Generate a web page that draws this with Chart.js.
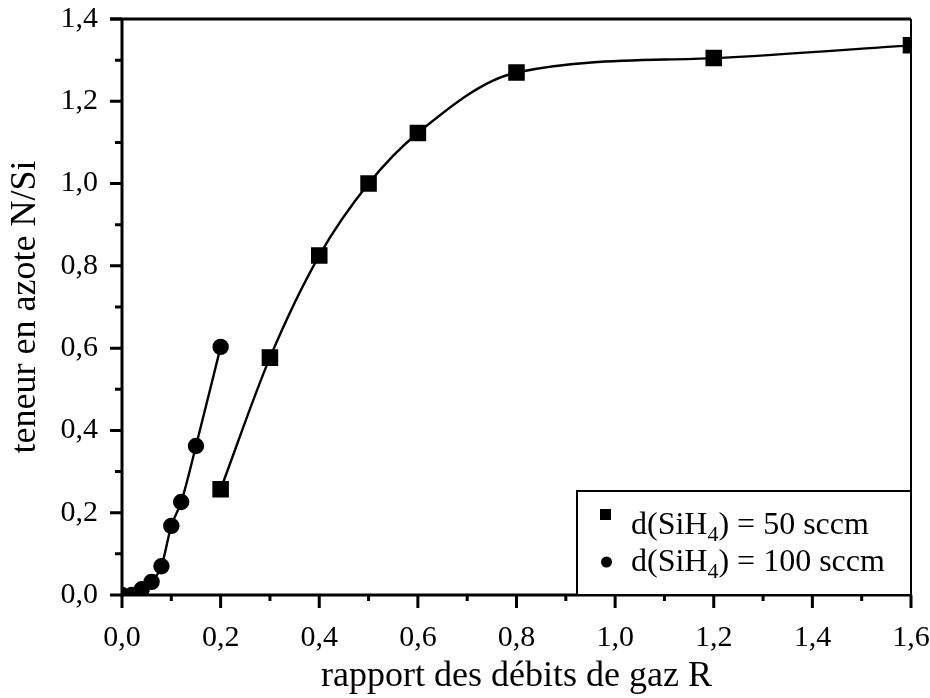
<!DOCTYPE html>
<html>
<head>
<meta charset="utf-8">
<script src="https://cdn.jsdelivr.net/npm/chart.js@4"></script>
<style>
  html, body { margin: 0; padding: 0; background: #fff; }
  #wrap { width: 930px; height: 698px; }
</style>
</head>
<body>
<div id="wrap"><canvas id="chart"></canvas></div>
<script>
// rapport R (x) et teneur N/Si (y)
const r50 = [0.2, 0.3, 0.4, 0.5, 0.6, 0.8, 1.2, 1.6];
const n50 = [0.257, 0.577, 0.825, 1.0, 1.123, 1.27, 1.305, 1.336];
const r100 = [0.0, 0.02, 0.04, 0.06, 0.08, 0.1, 0.12, 0.15, 0.2];
const n100 = [0.0, 0.0, 0.014, 0.032, 0.07, 0.168, 0.226, 0.362, 0.603];
const legendLabels = ['50 sccm', '100 sccm'];

const serif = '"Liberation Serif", "DejaVu Serif", serif';
const fmt = v => v.toFixed(1).replace('.', ',');

const toPoints = (xs, ys) => xs.map((x, i) => ({ x: x, y: ys[i] }));

// cadre, graduations et légende dessinés à la main
const frame = {
    id: 'frame',
    afterDraw(chart) {
        const { ctx, chartArea: a, scales } = chart;
        ctx.save();
        ctx.strokeStyle = '#000';
        // axes principaux
        ctx.lineWidth = 3;
        ctx.beginPath();
        ctx.moveTo(a.left, a.top); ctx.lineTo(a.left, a.bottom);
        ctx.moveTo(a.left - 1.5, a.bottom); ctx.lineTo(a.right + 1, a.bottom);
        ctx.moveTo(a.left - 12, a.top); ctx.lineTo(a.right, a.top);
        ctx.stroke();
        ctx.lineWidth = 2;
        ctx.beginPath();
        ctx.moveTo(a.right, a.top); ctx.lineTo(a.right, a.bottom);
        ctx.stroke();
        // graduations
        ctx.lineWidth = 3;
        ctx.beginPath();
        for (let i = 0; i <= 14; i++) {
            const y = scales.y.getPixelForValue(i / 10);
            const len = i % 2 === 0 ? 12 : 7;
            ctx.moveTo(a.left - len, y); ctx.lineTo(a.left, y);
        }
        for (let i = 0; i <= 16; i++) {
            const x = scales.x.getPixelForValue(i / 10);
            const len = i % 2 === 0 ? 13 : 6;
            ctx.moveTo(x, a.bottom); ctx.lineTo(x, a.bottom + len);
        }
        ctx.stroke();

        // légende
        const bx = 577, by = 491, bw = a.right - bx, bh = a.bottom - by;
        ctx.fillStyle = '#fff';
        ctx.fillRect(bx, by, bw, bh);
        ctx.lineWidth = 2;
        ctx.strokeRect(bx, by, bw, bh);
        ctx.fillStyle = '#000';
        ctx.fillRect(600, 509, 11, 11);
        ctx.beginPath();
        ctx.arc(606.5, 562, 5.5, 0, Math.PI * 2);
        ctx.fill();
        const rows = [534, 571];
        rows.forEach((y, i) => {
            let x = 631;
            ctx.textBaseline = 'alphabetic';
            ctx.font = '32px ' + serif;
            ctx.fillText('d(SiH', x, y);
            x += ctx.measureText('d(SiH').width;
            ctx.font = '22px ' + serif;
            ctx.fillText('4', x, y + 7);
            x += ctx.measureText('4').width;
            ctx.font = '32px ' + serif;
            ctx.fillText(') = ' + legendLabels[i], x, y);
        });
        ctx.restore();
    }
};

const chartContainer = document.querySelector('#chart');
const chart = new Chart(chartContainer, {
    type: 'scatter',
    data: {
        datasets: [
            {
                label: 'd(SiH4) = 50 sccm',
                data: toPoints(r50, n50),
                showLine: true,
                cubicInterpolationMode: 'monotone',
                borderColor: '#000',
                backgroundColor: '#000',
                borderWidth: 2.4,
                pointStyle: 'rect',
                pointRadius: 10,
                pointHoverRadius: 10,
            },
            {
                label: 'd(SiH4) = 100 sccm',
                data: toPoints(r100, n100),
                showLine: true,
                cubicInterpolationMode: 'monotone',
                borderColor: '#000',
                backgroundColor: '#000',
                borderWidth: 2.4,
                pointStyle: 'circle',
                pointRadius: 7,
                pointHoverRadius: 7,
            },
        ]
    },
    options: {
        responsive: true,
        maintainAspectRatio: false,
        animation: false,
        events: [],
        layout: { padding: { left: 0, top: 19, right: 19, bottom: 0 } },
        plugins: {
            legend: { display: false },
            tooltip: { enabled: false },
        },
        scales: {
            x: {
                type: 'linear',
                min: 0, max: 1.6,
                afterFit: s => { s.height = 103; s.paddingLeft = 0; s.paddingRight = 0; },
                grid: { display: false, drawTicks: false },
                border: { display: false },
                ticks: {
                    stepSize: 0.2,
                    padding: 25,
                    color: '#000',
                    font: { family: serif, size: 30 },
                    callback: v => fmt(v),
                },
                title: {
                    display: true,
                    text: 'rapport des débits de gaz R',
                    color: '#000',
                    font: { family: serif, size: 36 },
                    padding: { top: 0, bottom: 0 },
                },
            },
            y: {
                type: 'linear',
                min: 0, max: 1.4,
                afterFit: s => { s.width = 122; s.paddingTop = 0; s.paddingBottom = 0; },
                grid: { display: false, drawTicks: false },
                border: { display: false },
                ticks: {
                    stepSize: 0.2,
                    padding: 24,
                    color: '#000',
                    font: { family: serif, size: 30 },
                    callback: v => fmt(v),
                },
                title: {
                    display: true,
                    text: 'teneur en azote N/Si',
                    color: '#000',
                    font: { family: serif, size: 36 },
                    padding: { top: 4, bottom: 0 },
                },
            },
        },
    },
    plugins: [frame],
});
</script>
</body>
</html>
